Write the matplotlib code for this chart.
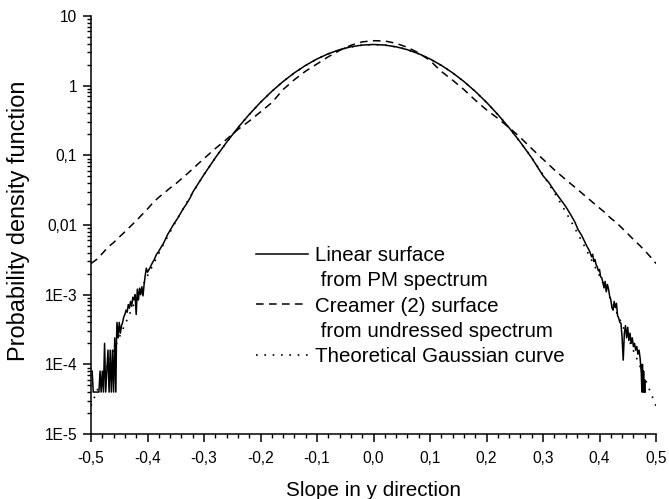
import numpy as np
import matplotlib
matplotlib.use("Agg")
import matplotlib.pyplot as plt
from matplotlib.lines import Line2D
from matplotlib.ticker import FixedLocator, LogLocator, MultipleLocator, NullFormatter

plt.rcParams['font.family'] = ['Liberation Sans', 'DejaVu Sans']

# linear surface (solid): noisy left tail, smooth middle, noisy right tail
lin_x_left = [-0.498, -0.496, -0.494, -0.492, -0.490, -0.488, -0.486, -0.484, -0.482, -0.480,
              -0.478, -0.476, -0.474, -0.472, -0.470, -0.468, -0.466, -0.464, -0.462, -0.460,
              -0.458, -0.456, -0.455, -0.454, -0.452, -0.450, -0.448, -0.446, -0.444, -0.442,
              -0.440, -0.438, -0.436, -0.434, -0.432, -0.430, -0.428, -0.426, -0.424, -0.422,
              -0.420, -0.418, -0.416, -0.414, -0.412, -0.410, -0.408, -0.406, -0.404, -0.402,
              -0.400, -0.396, -0.392, -0.388, -0.384, -0.380, -0.376, -0.372, -0.368, -0.364,
              -0.360, -0.356, -0.352, -0.348, -0.344, -0.340, -0.336, -0.332, -0.328, -0.324]
lin_y_left = [8.0e-5, 4.0e-5, 4.0e-5, 4.0e-5, 4.0e-5, 4.0e-5, 4.0e-5, 8.0e-5, 4.0e-5, 8.0e-5,
              4.0e-5, 2.0e-4, 4.0e-5, 8.0e-5, 1.6e-4, 4.0e-5, 1.6e-4, 4.0e-5, 1.6e-4, 4.0e-5,
              2.4e-4, 4.0e-5, 2.0e-4, 4.0e-4, 2.4e-4, 4.0e-4, 2.8e-4, 3.6e-4, 4.0e-4, 4.8e-4,
              5.2e-4, 6.0e-4, 5.6e-4, 7.2e-4, 6.4e-4, 8.0e-4, 6.8e-4, 9.2e-4, 8.4e-4, 1.0e-3,
              5.2e-4, 1.2e-3, 8.4e-4, 1.24e-3, 1.0e-3, 1.3e-3, 9.6e-4, 1.4e-3, 1.9e-3, 2.4e-3,
              2.1e-3, 2.4e-3, 2.8e-3, 3.2e-3, 3.8e-3, 4.2e-3, 4.8e-3, 5.4e-3, 6.3e-3, 7.4e-3,
              8.4e-3, 9.5e-3, 1.08e-2, 1.2e-2, 1.36e-2, 1.55e-2, 1.75e-2, 1.95e-2, 2.2e-2, 2.5e-2]

lin_x_mid = [-0.32, -0.30, -0.28, -0.26, -0.24, -0.22, -0.20, -0.18, -0.16, -0.14, -0.12,
             -0.10, -0.08, -0.06, -0.04, -0.02, 0.0, 0.02, 0.04, 0.06, 0.08, 0.10, 0.12,
             0.14, 0.16, 0.18, 0.20, 0.22, 0.24, 0.26, 0.28, 0.30]
lin_y_mid = [0.0295, 0.053, 0.092, 0.154, 0.249, 0.386, 0.577, 0.829, 1.148, 1.529, 1.96,
             2.419, 2.873, 3.284, 3.613, 3.826, 3.90, 3.826, 3.613, 3.284, 2.873, 2.419, 1.96,
             1.529, 1.148, 0.829, 0.577, 0.386, 0.249, 0.154, 0.092, 0.051]

lin_x_right = [0.310, 0.320, 0.330, 0.340, 0.348, 0.356, 0.362, 0.368, 0.374, 0.378,
               0.382, 0.386, 0.388, 0.390, 0.392, 0.394, 0.396, 0.398, 0.400, 0.402,
               0.404, 0.406, 0.408, 0.410, 0.412, 0.414, 0.416, 0.418, 0.420, 0.422,
               0.424, 0.426, 0.428, 0.430, 0.432, 0.434, 0.436, 0.438, 0.440, 0.442,
               0.444, 0.446, 0.448, 0.450, 0.452, 0.454, 0.456, 0.458, 0.460, 0.462,
               0.464, 0.466, 0.468, 0.470, 0.472, 0.474, 0.475, 0.476, 0.477, 0.478,
               0.479, 0.480, 0.481]
lin_y_right = [4.1e-2, 3.1e-2, 2.4e-2, 1.85e-2, 1.45e-2, 1.12e-2, 8.6e-3, 7.2e-3, 5.7e-3, 4.9e-3,
               4.3e-3, 3.5e-3, 3.8e-3, 3.0e-3, 3.2e-3, 2.7e-3, 2.5e-3, 2.2e-3, 2.3e-3, 1.8e-3,
               1.75e-3, 1.5e-3, 1.25e-3, 1.55e-3, 1.1e-3, 1.4e-3, 1.2e-3, 9.5e-4, 8.5e-4, 6.5e-4,
               6.0e-4, 8.0e-4, 6.5e-4, 7.5e-4, 5.0e-4, 4.6e-4, 4.0e-4, 3.9e-4, 2.4e-4, 1.15e-4,
               2.8e-4, 3.6e-4, 2.4e-4, 3.4e-4, 2.2e-4, 2.8e-4, 2.0e-4, 2.4e-4, 1.8e-4, 2.0e-4,
               1.6e-4, 1.8e-4, 1.4e-4, 1.6e-4, 1.2e-4, 7.5e-5, 4.0e-5, 1.0e-4, 4.0e-5, 8.0e-5,
               4.0e-5, 6.0e-5, 4.0e-5]

# Creamer (2) surface (dashed)
cr_x = [-0.50, -0.49, -0.48, -0.47, -0.46, -0.45, -0.44, -0.43, -0.42, -0.41, -0.40,
        -0.39, -0.38, -0.37, -0.36, -0.35, -0.34, -0.33, -0.32, -0.31, -0.30, -0.28,
        -0.26, -0.24, -0.22, -0.20, -0.18, -0.16, -0.14, -0.12, -0.10, -0.08, -0.06,
        -0.04, -0.02, 0.0, 0.02, 0.04, 0.06, 0.08, 0.10, 0.12, 0.14, 0.16, 0.18, 0.20,
        0.22, 0.24, 0.26, 0.28, 0.30, 0.32, 0.34, 0.36, 0.38, 0.40, 0.41, 0.42, 0.43,
        0.44, 0.45, 0.46, 0.47, 0.48, 0.49, 0.50]
cr_y = [2.8e-3, 3.2e-3, 3.9e-3, 4.8e-3, 5.6e-3, 6.7e-3, 8.0e-3, 9.6e-3, 1.15e-2, 1.4e-2, 1.7e-2,
        2.1e-2, 2.5e-2, 2.9e-2, 3.4e-2, 3.9e-2, 4.6e-2, 5.4e-2, 6.4e-2, 7.6e-2, 9.0e-2, 0.125,
        0.17, 0.235, 0.31, 0.42, 0.57, 0.88, 1.22, 1.62, 2.05, 2.6, 3.2,
        3.8, 4.25, 4.42, 4.38, 4.05, 3.55, 2.95, 2.3, 1.6, 1.2, 0.88, 0.62, 0.45,
        0.34, 0.25, 0.18, 0.125, 0.088, 0.062, 0.045, 0.033, 0.024, 0.0175, 0.015, 0.0125, 0.0108,
        0.009, 0.0075, 0.0062, 0.0052, 0.0043, 0.0035, 0.0028]

# theoretical Gaussian curve (dotted)
ga_x = [-0.500, -0.475, -0.450, -0.425, -0.400, -0.375, -0.350, -0.325, -0.300, -0.275,
        -0.250, -0.225, -0.200, -0.175, -0.150, -0.125, -0.100, -0.075, -0.050, -0.025,
        0.0, 0.025, 0.050, 0.075, 0.100, 0.125, 0.150, 0.175, 0.200, 0.225, 0.250,
        0.275, 0.300, 0.325, 0.350, 0.375, 0.400, 0.425, 0.450, 0.475, 0.500]
ga_y = [2.53e-5, 8.1e-5, 2.45e-4, 6.97e-4, 1.87e-3, 4.71e-3, 1.12e-2, 2.51e-2, 5.29e-2, 0.1052,
        0.1968, 0.347, 0.577, 0.903, 1.331, 1.849, 2.419, 2.981, 3.461, 3.785,
        3.90, 3.785, 3.461, 2.981, 2.419, 1.849, 1.331, 0.903, 0.577, 0.347, 0.1968,
        0.1052, 5.29e-2, 2.51e-2, 1.12e-2, 4.71e-3, 1.87e-3, 6.97e-4, 2.45e-4, 8.1e-5, 2.53e-5]

x_ticks = [-0.5, -0.4, -0.3, -0.2, -0.1, 0.0, 0.1, 0.2, 0.3, 0.4, 0.5]
x_labels = ['-0,5', '-0,4', '-0,3', '-0,2', '-0,1', '0,0', '0,1', '0,2', '0,3', '0,4', '0,5']
y_ticks = [1e-5, 1e-4, 1e-3, 1e-2, 1e-1, 1, 10]
y_labels = ['1E-5', '1E-4', '1E-3', '0,01', '0,1', '1', '10']

lin_x = lin_x_left + lin_x_mid + lin_x_right
lin_y = lin_y_left + lin_y_mid + lin_y_right

fig = plt.figure(figsize=(6.69, 4.99), dpi=100)
ax = fig.add_axes([91 / 669, 65 / 499, 565 / 669, 418 / 499])

ax.plot(ga_x, ga_y, color='black', lw=1.2, linestyle=(0, (1, 4)), zorder=1)
ax.plot(cr_x, cr_y, color='black', lw=1.1, linestyle=(0, (5, 3.5)), zorder=2)
ax.plot(lin_x, lin_y, color='black', lw=1.1, zorder=3)

ax.set_yscale('log')
ax.set_xlim(-0.5, 0.5)
ax.set_ylim(1e-5, 10)

ax.spines['top'].set_visible(False)
ax.spines['right'].set_visible(False)
ax.spines['left'].set_linewidth(1.1)
ax.spines['bottom'].set_linewidth(1.1)

ax.xaxis.set_major_locator(FixedLocator(x_ticks))
ax.set_xticklabels(x_labels)
ax.xaxis.set_minor_locator(MultipleLocator(0.02))
ax.yaxis.set_major_locator(FixedLocator(y_ticks))
ax.set_yticklabels(y_labels)
ax.yaxis.set_minor_locator(LogLocator(base=10, subs=np.arange(2, 10), numticks=20))
ax.yaxis.set_minor_formatter(NullFormatter())

ax.tick_params(which='major', direction='out', length=6, width=1.1, labelsize=11.2)
ax.tick_params(axis='x', which='major', pad=6)
ax.tick_params(axis='y', which='major', pad=4)
ax.tick_params(which='minor', direction='out', length=3, width=1.0)

ax.set_xlabel('Slope in y direction', fontsize=14.9)
ax.xaxis.set_label_coords(0.5, -0.112)
ax.set_ylabel('Probability density function', fontsize=16.9)
ax.yaxis.set_label_coords(-0.108, 0.51)

handles = [Line2D([], [], color='black', lw=1.1),
           Line2D([], [], linestyle='none'),
           Line2D([], [], color='black', lw=1.1, linestyle=(0, (5, 3.5))),
           Line2D([], [], linestyle='none'),
           Line2D([], [], color='black', lw=1.2, linestyle=(0, (1, 4)))]
labels = ['Linear surface', ' from PM spectrum', 'Creamer (2) surface',
          ' from undressed spectrum', 'Theoretical Gaussian curve']
ax.legend(handles, labels, loc='upper left', bbox_to_anchor=(0.292, 0.449),
          frameon=False, fontsize=14.75, handlelength=2.55, handletextpad=0.35,
          labelspacing=0.3, borderpad=0, borderaxespad=0)

fig.savefig('out.png', dpi=100)
